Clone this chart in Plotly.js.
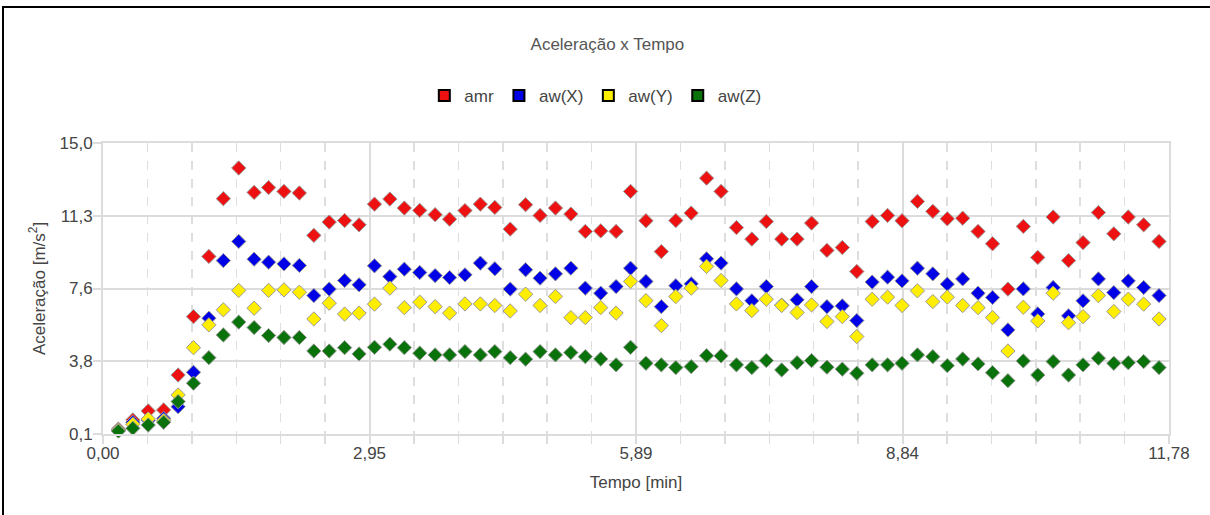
<!DOCTYPE html>
<html>
<head>
<meta charset="utf-8">
<script src="https://cdn.plot.ly/plotly-3.0.1.min.js"></script>
<style>
  html, body { margin: 0; padding: 0; background: #fff; }
  #chart { position: absolute; left: 0; top: 0; width: 1210px; height: 515px; }
  #frame { position: absolute; left: 2px; top: 6px; width: 1300px; height: 600px;
           border: 2px solid #000; pointer-events: none; box-sizing: border-box; }
</style>
</head>
<body>
<div id="chart"></div>
<div id="frame"></div>
<script>
// Time [min]
const tempo = [0.17,0.33,0.50,0.67,0.83,1.00,1.17,1.33,1.50,1.67,1.83,2.00,2.17,2.33,2.50,2.67,2.83,3.00,3.17,3.33,
               3.50,3.67,3.83,4.00,4.17,4.33,4.50,4.67,4.83,5.00,5.17,5.33,5.50,5.67,5.83,6.00,6.17,6.33,6.50,6.67,
               6.83,7.00,7.17,7.33,7.50,7.67,7.83,8.00,8.17,8.33,8.50,8.67,8.83,9.00,9.17,9.33,9.50,9.67,9.83,10.00,
               10.17,10.33,10.50,10.67,10.83,11.00,11.17,11.33,11.50,11.67];

const amr = [0.35,0.82,1.28,1.33,3.12,6.11,9.19,12.15,13.72,12.47,12.72,12.52,12.44,10.27,10.95,11.03,10.81,11.87,12.13,11.67,
             11.55,11.33,11.10,11.54,11.87,11.70,10.59,11.84,11.29,11.67,11.36,10.47,10.50,10.47,12.52,11.02,9.44,11.03,11.41,13.20,
             12.52,10.67,10.08,10.98,10.08,10.08,10.90,9.50,9.65,8.42,10.98,11.29,11.02,12.01,11.50,11.12,11.15,10.47,9.84,7.52,
             10.73,9.14,11.21,8.98,9.90,11.44,10.35,11.21,10.81,9.96];

const awX = [0.30,0.70,0.80,0.90,1.50,3.26,6.03,8.98,9.96,9.05,8.90,8.81,8.73,7.19,7.52,7.96,7.74,8.71,8.16,8.54,
             8.37,8.21,8.11,8.25,8.85,8.56,7.52,8.51,8.08,8.30,8.59,7.57,7.31,7.65,8.59,7.91,6.62,7.69,7.79,9.07,
             8.85,7.53,6.92,7.65,6.70,6.97,7.65,6.62,6.66,5.91,7.88,8.13,7.94,8.59,8.30,7.77,8.04,7.31,7.09,5.43,
             7.53,6.25,7.60,6.15,6.92,8.04,7.34,7.94,7.60,7.19];

const awY = [0.30,0.60,0.87,0.80,2.10,4.52,5.69,6.46,7.45,6.54,7.45,7.48,7.36,5.99,6.80,6.24,6.29,6.75,7.57,6.57,
             6.85,6.62,6.29,6.76,6.76,6.68,6.40,7.26,6.68,7.14,6.06,6.06,6.57,6.29,7.91,6.93,5.65,7.14,7.57,8.68,
             7.96,6.76,6.42,7.00,6.68,6.32,6.71,5.86,6.11,5.09,7.00,7.11,6.68,7.43,6.88,7.11,6.68,6.57,6.06,4.35,
             6.59,5.89,7.31,5.80,6.11,7.19,6.37,7.00,6.75,5.99];

const awZ = [0.25,0.39,0.56,0.70,1.76,2.70,4.01,5.17,5.83,5.55,5.14,5.04,5.04,4.35,4.35,4.52,4.20,4.54,4.70,4.52,
             4.24,4.15,4.15,4.32,4.15,4.32,4.01,3.93,4.32,4.15,4.27,4.06,3.94,3.64,4.54,3.72,3.64,3.50,3.55,4.11,
             4.10,3.64,3.50,3.86,3.38,3.75,3.86,3.52,3.42,3.21,3.64,3.64,3.72,4.15,4.06,3.60,3.94,3.69,3.24,2.83,
             3.84,3.12,3.81,3.12,3.64,3.98,3.72,3.75,3.81,3.50];

const seriesNames = ['amr','aw(X)','aw(Y)','aw(Z)'];
const seriesColors = ['#ee1111','#0000e6','#ffee00','#0a720a'];

const xTickVals = [0, 2.945, 5.89, 8.835, 11.78];
const xTickText = ['0,00','2,95','5,89','8,84','11,78'];
const yTickVals = [0.1, 3.825, 7.55, 11.275, 15.0];
const yTickText = ['0,1','3,8','7,6','11,3','15,0'];

const seriesData = [amr, awX, awY, awZ];
const traces = [];
seriesData.forEach((ys, k) => {
  traces.push({
    type: 'scatter', mode: 'markers', x: tempo, y: ys, name: seriesNames[k],
    showlegend: false, cliponaxis: false,
    marker: { symbol: 'diamond', size: 11, color: seriesColors[k], line: { color: '#9a9a9a', width: 1 } },
    hoverinfo: 'x+y+name'
  });
});
// legend entries (square keys)
seriesNames.forEach((n, k) => {
  traces.push({
    type: 'scatter', mode: 'markers', x: [null], y: [null], name: n, showlegend: true,
    marker: { symbol: 'square', size: 11, color: seriesColors[k], line: { color: '#000', width: 2 } }
  });
});

const FONT = 'Liberation Sans, Arial, sans-serif';
const layout = {
  width: 1210, height: 515,
  paper_bgcolor: '#fff', plot_bgcolor: '#fff',
  margin: { l: 103, r: 41, t: 143, b: 81 },
  font: { family: FONT, size: 17, color: '#444' },
  title: { text: 'Aceleração x Tempo', font: { family: FONT, size: 17, color: '#555' },
           xref: 'container', x: 0.502, yref: 'container', y: 1 - 44/515, yanchor: 'middle' },
  showlegend: true,
  legend: { orientation: 'h', xref: 'container', yref: 'container', x: 0.492, xanchor: 'center',
            y: 1 - 96/515, yanchor: 'middle', font: { family: FONT, size: 17, color: '#444' },
            itemwidth: 30, bgcolor: 'rgba(0,0,0,0)' },
  xaxis: {
    range: [0, 11.78], tickmode: 'array', tickvals: xTickVals, ticktext: xTickText,
    ticks: 'outside', ticklen: 8, tickcolor: '#dcdcdc', tickwidth: 2, ticklabelstandoff: -5,
    showgrid: true, gridcolor: '#dcdcdc', gridwidth: 2,
    showline: true, mirror: true, linecolor: '#dcdcdc', linewidth: 2, zeroline: false,
    tickfont: { family: FONT, size: 17, color: '#444' },
    minor: { dtick: 0.4908333, tick0: 0, ticks: 'outside', ticklen: 8, tickcolor: '#dcdcdc', tickwidth: 1.5,
             showgrid: true, gridcolor: '#dedede', griddash: 'dash', gridwidth: 1.5 },
    title: { text: 'Tempo [min]', font: { family: FONT, size: 17, color: '#444' }, standoff: 14 }
  },
  yaxis: {
    range: [0.1, 15.0], tickmode: 'array', tickvals: yTickVals, ticktext: yTickText,
    ticks: 'outside', ticklen: 8, tickcolor: '#dcdcdc', tickwidth: 2, ticklabelstandoff: -3,
    showgrid: true, gridcolor: '#dcdcdc', gridwidth: 2,
    showline: true, mirror: true, linecolor: '#dcdcdc', linewidth: 2, zeroline: false,
    tickfont: { family: FONT, size: 17, color: '#444' },
    title: { text: 'Aceleração [m/s<sup>2</sup>]', font: { family: FONT, size: 17, color: '#444' }, standoff: 10 }
  }
};

Plotly.newPlot('chart', traces, layout, { displayModeBar: false, staticPlot: true });
</script>
</body>
</html>
